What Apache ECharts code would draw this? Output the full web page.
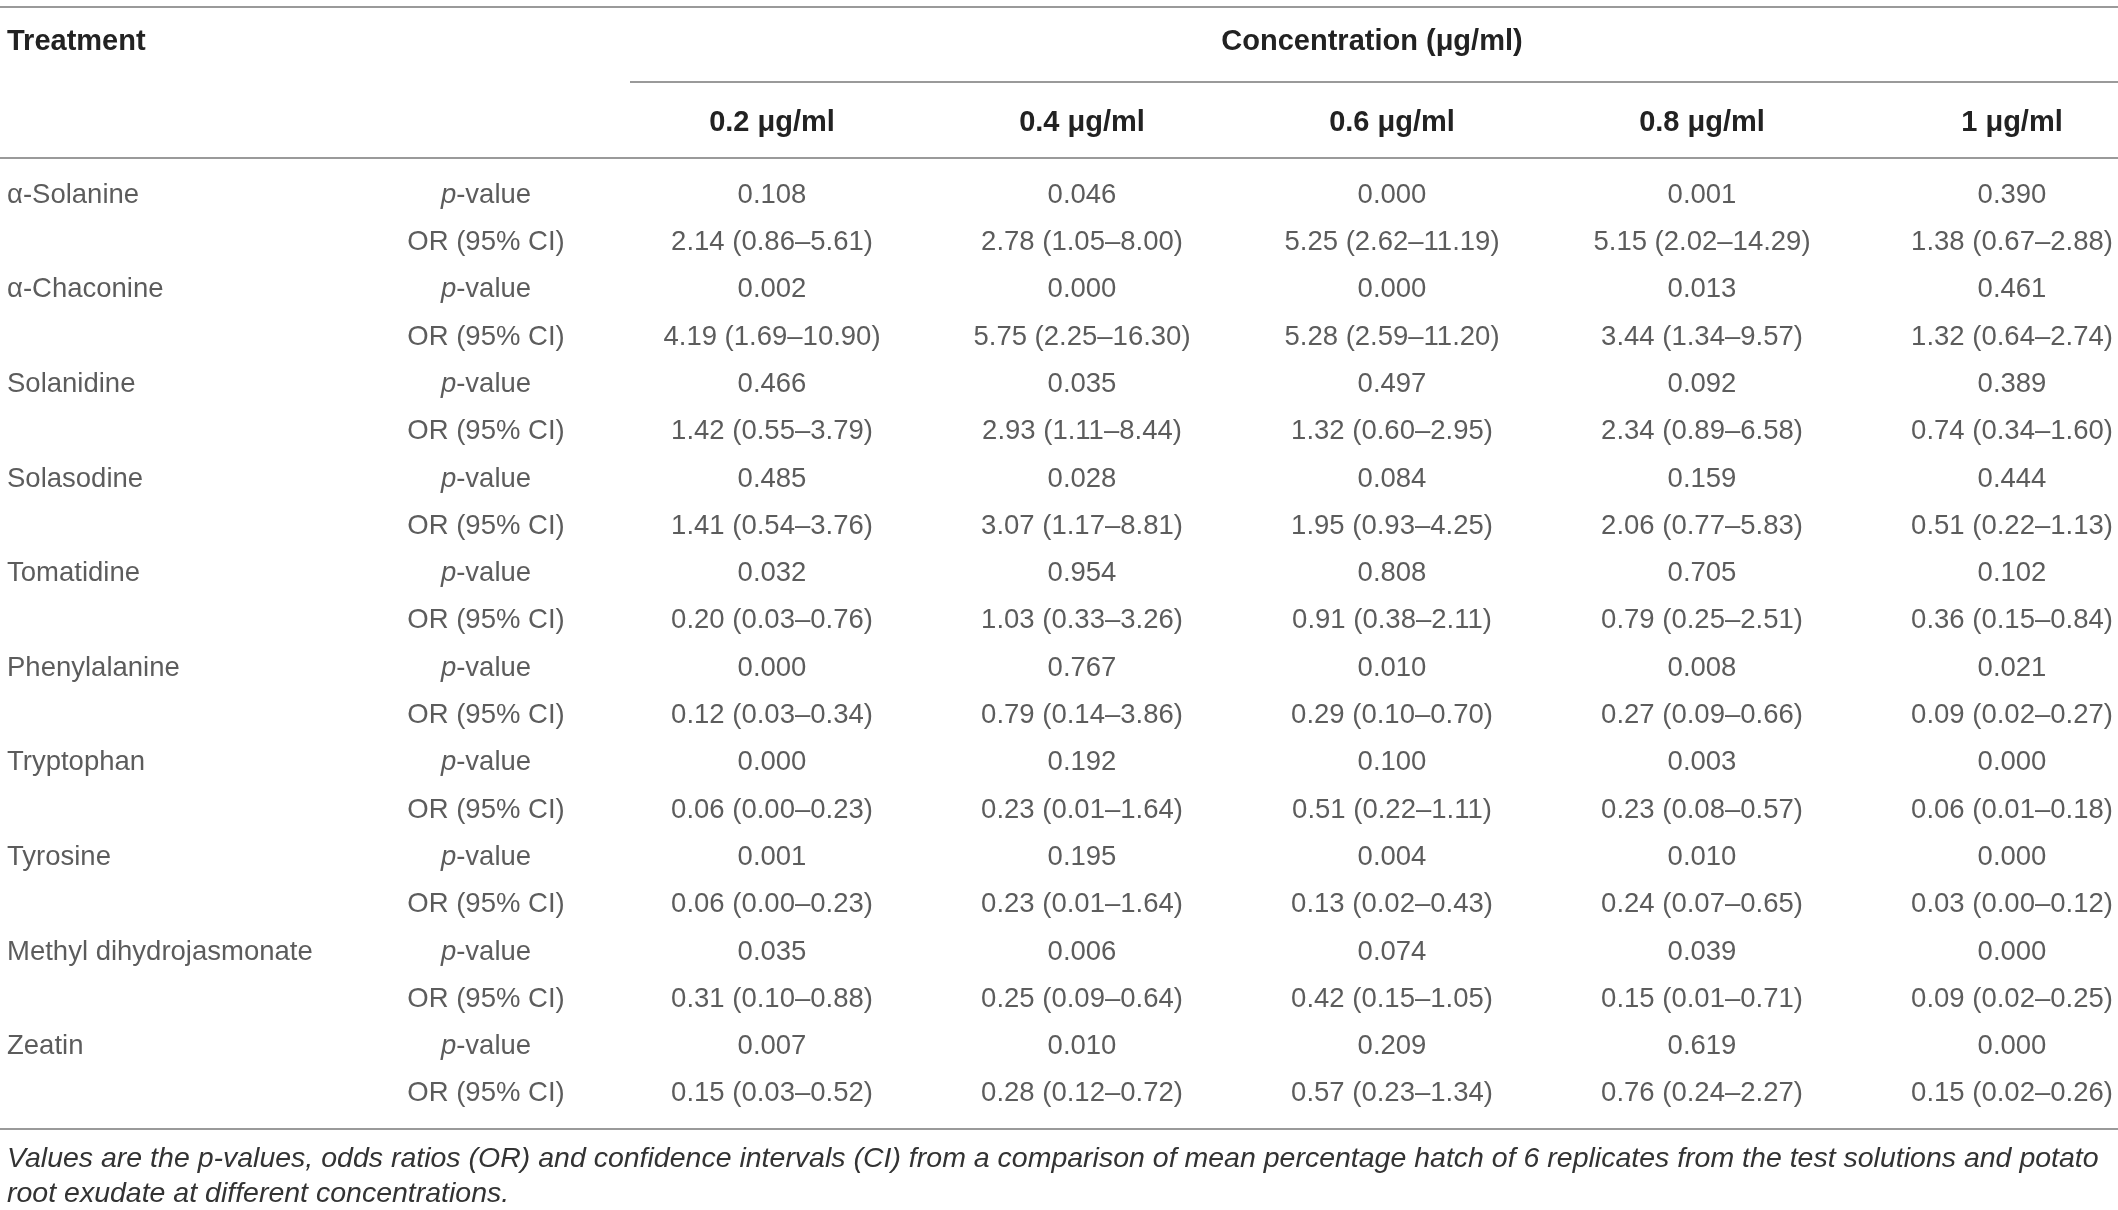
<!DOCTYPE html>
<html>
<head>
    <meta charset="utf-8">
    <title>Hatch test: p-values and odds ratios</title>
    <script src="https://cdn.jsdelivr.net/npm/echarts@6/dist/echarts.min.js"></script>
    <style>
        html, body { margin: 0; padding: 0; background: #fff; }
        #main { width: 2118px; height: 1210px; }
    </style>
</head>
<body>
    <div id="main"></div>
    <script>
        // table contents
        const treatments = ['α-Solanine', 'α-Chaconine', 'Solanidine', 'Solasodine', 'Tomatidine',
            'Phenylalanine', 'Tryptophan', 'Tyrosine', 'Methyl dihydrojasmonate', 'Zeatin'];
        const statLabels = ['{i|p}-value', 'OR (95% CI)'];
        const concentrations = ['0.2 μg/ml', '0.4 μg/ml', '0.6 μg/ml', '0.8 μg/ml', '1 μg/ml'];
        const pValues = [
            ['0.108', '0.046', '0.000', '0.001', '0.390'],
            ['0.002', '0.000', '0.000', '0.013', '0.461'],
            ['0.466', '0.035', '0.497', '0.092', '0.389'],
            ['0.485', '0.028', '0.084', '0.159', '0.444'],
            ['0.032', '0.954', '0.808', '0.705', '0.102'],
            ['0.000', '0.767', '0.010', '0.008', '0.021'],
            ['0.000', '0.192', '0.100', '0.003', '0.000'],
            ['0.001', '0.195', '0.004', '0.010', '0.000'],
            ['0.035', '0.006', '0.074', '0.039', '0.000'],
            ['0.007', '0.010', '0.209', '0.619', '0.000']
        ];
        const orValues = [
            ['2.14 (0.86–5.61)', '2.78 (1.05–8.00)', '5.25 (2.62–11.19)', '5.15 (2.02–14.29)', '1.38 (0.67–2.88)'],
            ['4.19 (1.69–10.90)', '5.75 (2.25–16.30)', '5.28 (2.59–11.20)', '3.44 (1.34–9.57)', '1.32 (0.64–2.74)'],
            ['1.42 (0.55–3.79)', '2.93 (1.11–8.44)', '1.32 (0.60–2.95)', '2.34 (0.89–6.58)', '0.74 (0.34–1.60)'],
            ['1.41 (0.54–3.76)', '3.07 (1.17–8.81)', '1.95 (0.93–4.25)', '2.06 (0.77–5.83)', '0.51 (0.22–1.13)'],
            ['0.20 (0.03–0.76)', '1.03 (0.33–3.26)', '0.91 (0.38–2.11)', '0.79 (0.25–2.51)', '0.36 (0.15–0.84)'],
            ['0.12 (0.03–0.34)', '0.79 (0.14–3.86)', '0.29 (0.10–0.70)', '0.27 (0.09–0.66)', '0.09 (0.02–0.27)'],
            ['0.06 (0.00–0.23)', '0.23 (0.01–1.64)', '0.51 (0.22–1.11)', '0.23 (0.08–0.57)', '0.06 (0.01–0.18)'],
            ['0.06 (0.00–0.23)', '0.23 (0.01–1.64)', '0.13 (0.02–0.43)', '0.24 (0.07–0.65)', '0.03 (0.00–0.12)'],
            ['0.31 (0.10–0.88)', '0.25 (0.09–0.64)', '0.42 (0.15–1.05)', '0.15 (0.01–0.71)', '0.09 (0.02–0.25)'],
            ['0.15 (0.03–0.52)', '0.28 (0.12–0.72)', '0.57 (0.23–1.34)', '0.76 (0.24–2.27)', '0.15 (0.02–0.26)']
        ];
        const headTitle = 'Treatment';
        const groupTitle = 'Concentration (μg/ml)';
        const footnote = [
            'Values are the p-values, odds ratios (OR) and confidence intervals (CI) from a comparison of mean percentage hatch of 6 replicates from the test solutions and potato',
            'root exudate at different concentrations.'
        ];

        const FONT = '"Liberation Sans", Helvetica, Arial, sans-serif';
        const TXT = '#333';
        const RULE = '#9a9a9a';

        // axis categories: 2 label columns + 5 concentrations, 2 rows per treatment
        const colKeys = ['treatment', 'stat'].concat(concentrations);
        const rowKeys = [];
        treatments.forEach((t, i) => { rowKeys.push(i + '-p', i + '-or'); });

        const nameData = treatments.map((t, i) => ({ value: [0, 2 * i], name: t }));
        const statData = [];
        const cellData = [];
        treatments.forEach((t, i) => {
            statLabels.forEach((s, k) => statData.push({ value: [1, 2 * i + k], name: s }));
            concentrations.forEach((c, j) => {
                cellData.push({ value: [j + 2, 2 * i], name: pValues[i][j] });
                cellData.push({ value: [j + 2, 2 * i + 1], name: orValues[i][j] });
            });
        });

        function textSeries(name, data, label) {
            return {
                name: name,
                type: 'scatter',
                data: data,
                symbolSize: 0,
                silent: true,
                clip: false,
                label: Object.assign({
                    show: true,
                    position: 'inside',
                    formatter: '{b}',
                    fontFamily: FONT,
                    fontSize: 27.5,
                    color: TXT
                }, label)
            };
        }

        const chart = echarts.init(document.getElementById('main'));
        chart.setOption({
            animation: false,
            backgroundColor: '#fff',
            textStyle: { fontFamily: FONT },
            // last column runs past the right edge, like the source table
            grid: { left: -3, width: 2170, top: 171.5, bottom: 92.5, outerBoundsMode: 'none', containLabel: false },
            xAxis: {
                type: 'category',
                data: colKeys,
                position: 'top',
                axisLine: { show: false },
                axisTick: { show: false },
                splitLine: { show: false },
                axisLabel: {
                    margin: 34,
                    fontFamily: FONT,
                    fontSize: 29,
                    fontWeight: 'bold',
                    color: '#222',
                    formatter: (v, i) => i >= 2 ? v : ''
                }
            },
            yAxis: {
                type: 'category',
                data: rowKeys,
                inverse: true,
                show: false
            },
            series: [
                textSeries('treatment', nameData, { align: 'left', offset: [-145, 0] }),
                textSeries('stat', statData, {
                    offset: [24, 0],
                    rich: { i: { fontStyle: 'italic', fontFamily: FONT, fontSize: 27.5, color: TXT } }
                }),
                textSeries('cells', cellData, {})
            ],
            graphic: [
                { type: 'line', shape: { x1: 0, y1: 7, x2: 2118, y2: 7 }, style: { stroke: RULE, lineWidth: 2 } },
                { type: 'line', shape: { x1: 630, y1: 82, x2: 2118, y2: 82 }, style: { stroke: RULE, lineWidth: 2 } },
                { type: 'line', shape: { x1: 0, y1: 158, x2: 2118, y2: 158 }, style: { stroke: RULE, lineWidth: 2 } },
                { type: 'line', shape: { x1: 0, y1: 1129, x2: 2118, y2: 1129 }, style: { stroke: RULE, lineWidth: 2 } },
                {
                    type: 'text', x: 7, y: 42,
                    style: { text: headTitle, font: 'bold 29px ' + FONT, fill: '#222', verticalAlign: 'middle' }
                },
                {
                    type: 'text', x: 1372, y: 42,
                    style: { text: groupTitle, font: 'bold 29px ' + FONT, fill: '#222', align: 'center', verticalAlign: 'middle' }
                },
                {
                    type: 'text', x: 7, y: 1159,
                    style: { text: footnote[0], font: 'italic 28.5px ' + FONT, fill: TXT, verticalAlign: 'middle' }
                },
                {
                    type: 'text', x: 7, y: 1194,
                    style: { text: footnote[1], font: 'italic 28.5px ' + FONT, fill: TXT, verticalAlign: 'middle' }
                }
            ]
        });

        window.addEventListener('resize', () => chart.resize());
    </script>
</body>
</html>
